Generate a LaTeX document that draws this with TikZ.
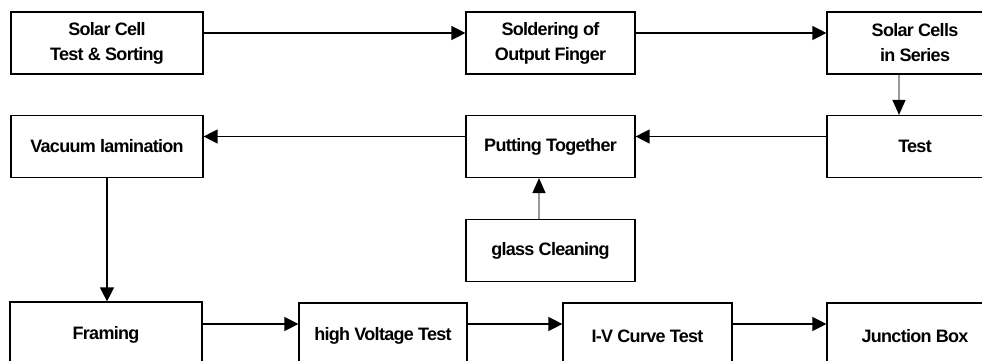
\documentclass[tikz,border=0pt]{standalone}
\usepackage{fontspec}
\setmainfont{Liberation Sans}[LetterSpace=-4]
\usetikzlibrary{arrows.meta}
\tikzset{
  box/.style={draw=black, line width=1.2pt, rectangle, align=center, inner sep=0pt,
    minimum height=62pt, font=\fontsize{18}{25}\selectfont\bfseries},
  flow/.style={line width=1.3pt, -{Triangle[length=14pt,width=14pt]}},
  grayflow/.style={line width=1.3pt, draw=gray!80, -{Triangle[length=15pt,width=13pt,fill=black,color=black]}}
}
\begin{document}
\begin{tikzpicture}[x=1pt,y=-1pt]
\useasboundingbox (0,0) rectangle (982,361);
\clip (0,0) rectangle (982,361);
% row 1
\node[box, minimum width=192pt] (A) at (107,43) {Solar Cell\\Test \& Sorting};
\node[box, minimum width=169pt] (B) at (550.5,43) {Soldering of\\Output Finger};
\node[box, minimum width=176pt] (C) at (915,43) {Solar Cells\\in Series};
% row 2
\node[box, minimum width=192pt] (D) at (107,146.5) {Vacuum lamination};
\node[box, minimum width=169pt] (E) at (550.5,146.5) {Putting Together};
\node[box, minimum width=176pt] (F) at (915,146.5) {Test};
\node[box, minimum width=169pt] (G) at (550.5,250.5) {glass Cleaning};
% row 3
\node[box, minimum width=192pt, minimum height=66pt] (H) at (106,335) {Framing};
\node[box, minimum width=168pt, minimum height=66pt] (I) at (383,336) {high Voltage Test};
\node[box, minimum width=169pt, minimum height=66pt] (J) at (647.5,336) {I-V Curve Test};
\node[box, minimum width=176pt, minimum height=66pt] (K) at (915,336) {Junction Box};
% connectors
\draw[flow] ([yshift=10pt]A.east) -- ([yshift=10pt]B.west);
\draw[flow] ([yshift=10pt]B.east) -- ([yshift=10pt]C.west);
\draw[grayflow] ([xshift=-16pt]C.south) -- ([xshift=-16pt]F.north);
\draw[flow] ([yshift=10pt]F.west) -- ([yshift=10pt]E.east);
\draw[flow] ([yshift=10pt]E.west) -- ([yshift=10pt]D.east);
\draw[grayflow] ([xshift=-11.5pt]G.north) -- ([xshift=-11.5pt]E.south);
\draw[flow] (D.south) -- (D.south |- H.north);
\draw[flow] (H.east |- 0,324) -- (I.west |- 0,324);
\draw[flow] (I.east |- 0,324) -- (J.west |- 0,324);
\draw[flow] (J.east |- 0,324) -- (K.west |- 0,324);
\end{tikzpicture}
\end{document}
